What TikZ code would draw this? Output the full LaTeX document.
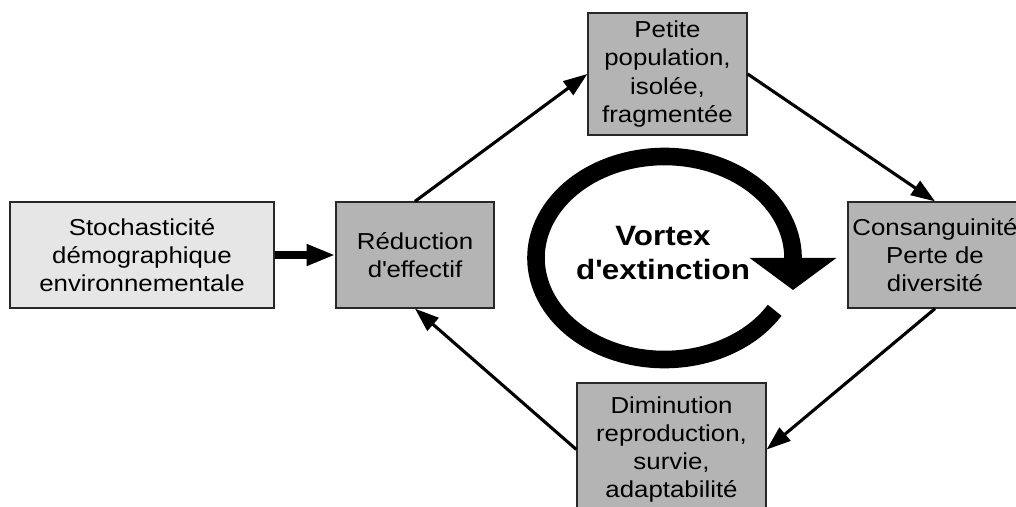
\documentclass[tikz,border=0pt]{standalone}
\usepackage{fontspec}
\setmainfont{Liberation Sans}[FakeStretch=1.12]
\usetikzlibrary{arrows.meta}
\definecolor{vxDark}{RGB}{180,180,180}
\definecolor{vxLight}{RGB}{230,230,230}
\definecolor{vxLine}{RGB}{40,40,40}
\tikzset{
    base/.style={
        font=\fontsize{16.4pt}{20.1pt}\selectfont,
        align=center,
        text=black
    },
    stage/.style={
        base,
        rectangle,
        draw=vxLine,
        line width=0.9pt,
        fill=vxDark,
        inner sep=0pt
    },
    cause/.style={
        stage,
        fill=vxLight
    },
    flow/.style={
        -{Triangle[length=0.6cm, width=0.42cm]},
        line width=2.2pt
    },
    push/.style={
        -{Triangle[length=0.72cm, width=0.5cm]},
        line width=0.2cm
    },
    vortex/.style={
        -{Triangle[length=0.8cm, width=2.125cm]},
        line width=0.44cm
    }
}

\begin{document}
\begin{tikzpicture}[x=0.025cm, y=-0.025cm]
  \useasboundingbox (0,0) rectangle (1016,506);
  \clip (0,0) rectangle (1016,506);

  % Boxes
  \node[cause, minimum width=6.6cm, minimum height=2.65cm] (stoch) at (142,255) {Stochasticité\\démographique\\environnementale};
  \node[stage, minimum width=3.95cm, minimum height=2.65cm] (reduc) at (415,255) {Réduction\\d\textquotesingle effectif};
  \node[stage, minimum width=3.975cm, minimum height=3.05cm] (petite) at (667.5,74) {Petite\\population,\\isolée,\\fragmentée};
  \node[stage, minimum width=4.35cm, minimum height=2.65cm] (consang) at (935,255) {Consanguinité\\Perte de\\diversité};
  \node[stage, minimum width=4.725cm, minimum height=3.325cm] (dimin) at (671.5,449.5) {Diminution\\reproduction,\\survie,\\adaptabilité};

  % Cycle
  \draw[push] (stoch) -- (reduc);
  \draw[flow] (reduc.north) -- (petite.west);
  \draw[flow] (petite.east) -- (consang.north);
  \draw[flow] (consang.south) -- (dimin.east);
  \draw[flow] (dimin.west) -- (reduc.south);

  % Vortex
  \draw[vortex] (664.5,258) ++(31:128.5 and 101.5)
    arc[start angle=31, end angle=360, x radius=128.5, y radius=101.5] -- ++(0,32);
  \node[base, font=\bfseries\fontsize{19.9pt}{24.2pt}\selectfont] (vtext) at (663,253) {Vortex\\d\textquotesingle extinction};
\end{tikzpicture}
\end{document}
